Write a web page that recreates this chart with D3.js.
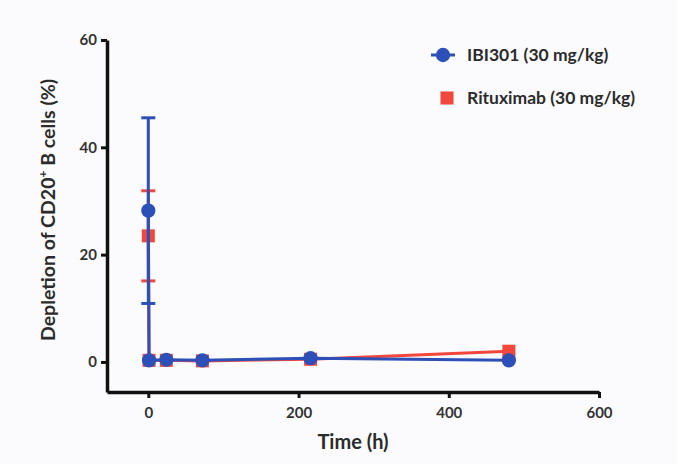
<!DOCTYPE html>
<html>
<head>
<meta charset="utf-8">
<script src="https://cdn.jsdelivr.net/npm/d3@7"></script>
<style>
  body { margin: 0; background: #fbfbfd; }
  svg { display: block; }
  text { font-family: Lato, "Open Sans", sans-serif; font-weight: bold; fill: #2b2b2b; }
</style>
</head>
<body>
<div class="container"></div>
<script>
// time points (h) and % depletion
var times = [0, 1, 24, 72, 216, 480];
var ibiMean = [28.2, 0.3, 0.4, 0.3, 0.7, 0.3];
var ibiErr = [17.3, 0, 0, 0, 0, 0];
var rituxMean = [23.5, 0.3, 0.3, 0.2, 0.5, 2.0];
var rituxErr = [8.4, 0, 0, 0, 0, 0];
var xTicks = [0, 200, 400, 600];
var yTicks = [0, 20, 40, 60];
var seriesNames = ["IBI301 (30 mg/kg)", "Rituximab (30 mg/kg)"];

var width = 677, height = 464;
var blue = "#2d4fb8", red = "#f2473d";

var svg = d3.select(".container").append("svg")
    .attr("width", width)
    .attr("height", height);

svg.append("rect").attr("width", width).attr("height", height).attr("fill", "#fbfbfd");

var x = d3.scaleLinear().domain([-55, 600]).range([107, 599]);
var y = d3.scaleLinear().domain([-5.6, 60]).range([392, 40]);

// axes, prism style
var xAxis = svg.append("g")
    .attr("transform", "translate(0," + y(-5.6) + ")")
    .call(d3.axisBottom(x).tickValues(xTicks).tickSize(6).tickPadding(9).tickSizeOuter(0));
var yAxis = svg.append("g")
    .attr("transform", "translate(" + x(-55) + ",0)")
    .call(d3.axisLeft(y).tickValues(yTicks).tickSize(6).tickPadding(4).tickSizeOuter(0));

[xAxis, yAxis].forEach(function(a)
{
    a.select(".domain").attr("stroke", "#111").attr("stroke-width", 3.5);
    a.selectAll(".tick line").attr("stroke", "#111").attr("stroke-width", 3);
    a.selectAll(".tick text").style("font-size", "15px").style("fill", "#333");
});

function series(mean, err, col, shape)
{
    var g = svg.append("g");
    var pts = times.map(function(t, i) { return {t: t, v: mean[i], e: err[i]}; });
    g.append("path")
        .datum(pts)
        .attr("fill", "none")
        .attr("stroke", col)
        .attr("stroke-width", 3)
        .attr("d", d3.line().x(function(d) { return x(d.t); }).y(function(d) { return y(d.v); }));
    var eb = g.selectAll("g.err").data(pts.filter(function(d) { return d.e > 0; })).enter().append("g");
    eb.append("line")
        .attr("x1", function(d) { return x(d.t); }).attr("x2", function(d) { return x(d.t); })
        .attr("y1", function(d) { return y(d.v - d.e); }).attr("y2", function(d) { return y(d.v + d.e); })
        .attr("stroke", col).attr("stroke-width", 3);
    [-1, 1].forEach(function(s)
    {
        eb.append("line")
            .attr("x1", function(d) { return x(d.t) - 7; }).attr("x2", function(d) { return x(d.t) + 7; })
            .attr("y1", function(d) { return y(d.v + s * d.e); }).attr("y2", function(d) { return y(d.v + s * d.e); })
            .attr("stroke", col).attr("stroke-width", 3);
    });
    g.selectAll("path.pt").data(pts).enter().append("path")
        .attr("transform", function(d) { return "translate(" + x(d.t) + "," + y(d.v) + ")"; })
        .attr("d", d3.symbol().type(shape).size(shape === d3.symbolSquare ? 170 : 160))
        .attr("fill", col);
}

series(rituxMean, rituxErr, red, d3.symbolSquare);
series(ibiMean, ibiErr, blue, d3.symbolCircle);

// legend
var legend = svg.append("g");
legend.append("line").attr("x1", 431).attr("x2", 455).attr("y1", 55).attr("y2", 55)
    .attr("stroke", blue).attr("stroke-width", 3);
legend.append("path").attr("transform", "translate(443,55)")
    .attr("d", d3.symbol().type(d3.symbolCircle).size(160)).attr("fill", blue);
legend.append("path").attr("transform", "translate(447,98)")
    .attr("d", d3.symbol().type(d3.symbolSquare).size(170)).attr("fill", red);
legend.selectAll("text").data(seriesNames).enter().append("text")
    .attr("x", 467)
    .attr("y", function(d, i) { return 61 + i * 43; })
    .style("font-size", "17.5px")
    .text(function(d) { return d; });

// axis titles
svg.append("text")
    .attr("x", 353).attr("y", 449)
    .attr("text-anchor", "middle")
    .style("font-size", "20px")
    .text("Time (h)");

var yl = svg.append("text")
    .attr("transform", "translate(55,210) rotate(-90)")
    .attr("text-anchor", "middle")
    .style("font-size", "19.5px");
yl.append("tspan").text("Depletion of CD20");
yl.append("tspan").attr("dy", -8).style("font-size", "12px").text("+");
yl.append("tspan").attr("dy", 8).text(" B cells (%)");
</script>
</body>
</html>
